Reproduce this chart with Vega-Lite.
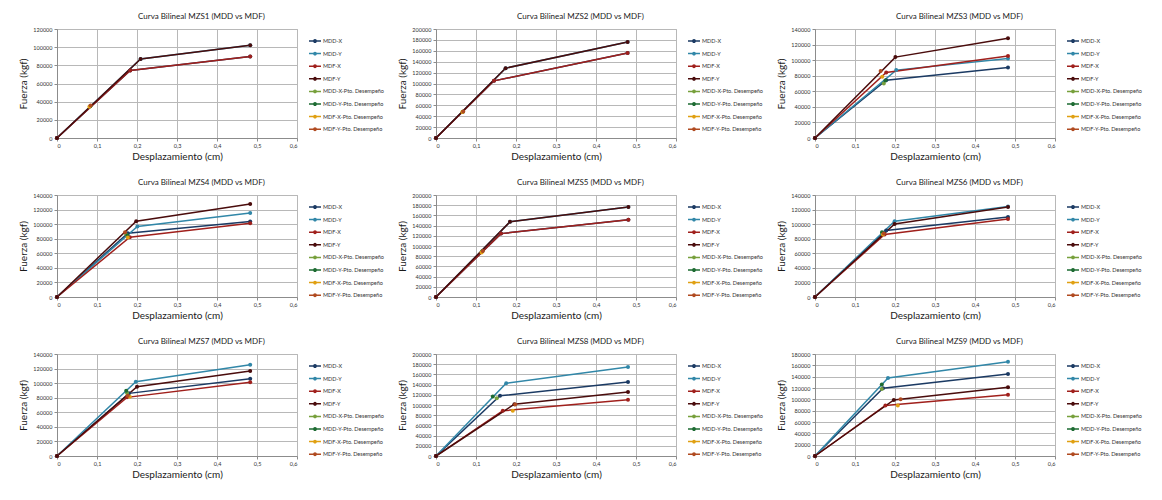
{
  "$schema": "https://vega.github.io/schema/vega-lite/v6.json",
  "background": "#ffffff",
  "padding": {"left": 18, "top": 12, "right": 0, "bottom": 0},
  "columns": 3,
  "spacing": {"row": 16, "column": 12},
  "resolve": {
    "scale": {"x": "independent", "y": "independent", "color": "independent"},
    "axis": {"x": "independent", "y": "independent"},
    "legend": {"color": "independent"}
  },
  "data": {
    "values": [
      {"p":1,"s":"MDD-X","x":0,"y":0},{"p":1,"s":"MDD-X","x":0.183,"y":74300},{"p":1,"s":"MDD-X","x":0.483,"y":89600},
      {"p":1,"s":"MDD-Y","x":0,"y":0},{"p":1,"s":"MDD-Y","x":0.209,"y":87100},{"p":1,"s":"MDD-Y","x":0.483,"y":102100},
      {"p":1,"s":"MDF-X","x":0,"y":0},{"p":1,"s":"MDF-X","x":0.183,"y":74300},{"p":1,"s":"MDF-X","x":0.483,"y":89600},
      {"p":1,"s":"MDF-Y","x":0,"y":0},{"p":1,"s":"MDF-Y","x":0.209,"y":87100},{"p":1,"s":"MDF-Y","x":0.483,"y":102100},
      {"p":1,"s":"MDD-X-Pto. Desempeño","x":0.083,"y":35000},
      {"p":1,"s":"MDD-Y-Pto. Desempeño","x":0.083,"y":35000},
      {"p":1,"s":"MDF-X-Pto. Desempeño","x":0.081,"y":34500},
      {"p":1,"s":"MDF-Y-Pto. Desempeño","x":0.084,"y":35800},

      {"p":2,"s":"MDD-X","x":0,"y":0},{"p":2,"s":"MDD-X","x":0.145,"y":104900},{"p":2,"s":"MDD-X","x":0.479,"y":155800},
      {"p":2,"s":"MDD-Y","x":0,"y":0},{"p":2,"s":"MDD-Y","x":0.174,"y":128200},{"p":2,"s":"MDD-Y","x":0.479,"y":176100},
      {"p":2,"s":"MDF-X","x":0,"y":0},{"p":2,"s":"MDF-X","x":0.145,"y":104900},{"p":2,"s":"MDF-X","x":0.479,"y":155800},
      {"p":2,"s":"MDF-Y","x":0,"y":0},{"p":2,"s":"MDF-Y","x":0.174,"y":128200},{"p":2,"s":"MDF-Y","x":0.479,"y":176100},
      {"p":2,"s":"MDD-X-Pto. Desempeño","x":0.067,"y":48000},
      {"p":2,"s":"MDD-Y-Pto. Desempeño","x":0.067,"y":48000},
      {"p":2,"s":"MDF-X-Pto. Desempeño","x":0.066,"y":47500},
      {"p":2,"s":"MDF-Y-Pto. Desempeño","x":0.068,"y":48500},

      {"p":3,"s":"MDD-X","x":0,"y":0},{"p":3,"s":"MDD-X","x":0.178,"y":74300},{"p":3,"s":"MDD-X","x":0.4825,"y":90600},
      {"p":3,"s":"MDD-Y","x":0,"y":0},{"p":3,"s":"MDD-Y","x":0.203,"y":87200},{"p":3,"s":"MDD-Y","x":0.4825,"y":102200},
      {"p":3,"s":"MDF-X","x":0,"y":0},{"p":3,"s":"MDF-X","x":0.178,"y":84200},{"p":3,"s":"MDF-X","x":0.4825,"y":105200},
      {"p":3,"s":"MDF-Y","x":0,"y":0},{"p":3,"s":"MDF-Y","x":0.201,"y":103900},{"p":3,"s":"MDF-Y","x":0.4825,"y":128000},
      {"p":3,"s":"MDD-X-Pto. Desempeño","x":0.172,"y":70000},
      {"p":3,"s":"MDD-Y-Pto. Desempeño","x":0.176,"y":73900},
      {"p":3,"s":"MDF-X-Pto. Desempeño","x":0.168,"y":78600},
      {"p":3,"s":"MDF-Y-Pto. Desempeño","x":0.164,"y":85900},

      {"p":4,"s":"MDD-X","x":0,"y":0},{"p":4,"s":"MDD-X","x":0.177,"y":87500},{"p":4,"s":"MDD-X","x":0.483,"y":103600},
      {"p":4,"s":"MDD-Y","x":0,"y":0},{"p":4,"s":"MDD-Y","x":0.201,"y":96700},{"p":4,"s":"MDD-Y","x":0.483,"y":115200},
      {"p":4,"s":"MDF-X","x":0,"y":0},{"p":4,"s":"MDF-X","x":0.182,"y":82000},{"p":4,"s":"MDF-X","x":0.483,"y":101300},
      {"p":4,"s":"MDF-Y","x":0,"y":0},{"p":4,"s":"MDF-Y","x":0.198,"y":104100},{"p":4,"s":"MDF-Y","x":0.483,"y":127600},
      {"p":4,"s":"MDD-X-Pto. Desempeño","x":0.173,"y":85700},
      {"p":4,"s":"MDD-Y-Pto. Desempeño","x":0.176,"y":84800},
      {"p":4,"s":"MDF-X-Pto. Desempeño","x":0.177,"y":81500},
      {"p":4,"s":"MDF-Y-Pto. Desempeño","x":0.170,"y":88900},

      {"p":5,"s":"MDD-X","x":0,"y":0},{"p":5,"s":"MDD-X","x":0.1625,"y":124300},{"p":5,"s":"MDD-X","x":0.481,"y":151300},
      {"p":5,"s":"MDD-Y","x":0,"y":0},{"p":5,"s":"MDD-Y","x":0.185,"y":147400},{"p":5,"s":"MDD-Y","x":0.481,"y":176300},
      {"p":5,"s":"MDF-X","x":0,"y":0},{"p":5,"s":"MDF-X","x":0.1625,"y":124300},{"p":5,"s":"MDF-X","x":0.481,"y":151300},
      {"p":5,"s":"MDF-Y","x":0,"y":0},{"p":5,"s":"MDF-Y","x":0.185,"y":147400},{"p":5,"s":"MDF-Y","x":0.481,"y":176300},
      {"p":5,"s":"MDD-X-Pto. Desempeño","x":0.115,"y":89000},
      {"p":5,"s":"MDD-Y-Pto. Desempeño","x":0.116,"y":89500},
      {"p":5,"s":"MDF-X-Pto. Desempeño","x":0.114,"y":87500},
      {"p":5,"s":"MDF-Y-Pto. Desempeño","x":0.117,"y":90100},

      {"p":6,"s":"MDD-X","x":0,"y":0},{"p":6,"s":"MDD-X","x":0.178,"y":91200},{"p":6,"s":"MDD-X","x":0.4825,"y":109900},
      {"p":6,"s":"MDD-Y","x":0,"y":0},{"p":6,"s":"MDD-Y","x":0.199,"y":104000},{"p":6,"s":"MDD-Y","x":0.4825,"y":124300},
      {"p":6,"s":"MDF-X","x":0,"y":0},{"p":6,"s":"MDF-X","x":0.174,"y":85700},{"p":6,"s":"MDF-X","x":0.4825,"y":107200},
      {"p":6,"s":"MDF-Y","x":0,"y":0},{"p":6,"s":"MDF-Y","x":0.199,"y":100300},{"p":6,"s":"MDF-Y","x":0.4825,"y":123600},
      {"p":6,"s":"MDD-X-Pto. Desempeño","x":0.168,"y":88000},
      {"p":6,"s":"MDD-Y-Pto. Desempeño","x":0.1675,"y":88900},
      {"p":6,"s":"MDF-X-Pto. Desempeño","x":0.170,"y":85700},
      {"p":6,"s":"MDF-Y-Pto. Desempeño","x":0.172,"y":87100},

      {"p":7,"s":"MDD-X","x":0,"y":0},{"p":7,"s":"MDD-X","x":0.180,"y":86000},{"p":7,"s":"MDD-X","x":0.483,"y":106100},
      {"p":7,"s":"MDD-Y","x":0,"y":0},{"p":7,"s":"MDD-Y","x":0.197,"y":102000},{"p":7,"s":"MDD-Y","x":0.483,"y":125300},
      {"p":7,"s":"MDF-X","x":0,"y":0},{"p":7,"s":"MDF-X","x":0.175,"y":80500},{"p":7,"s":"MDF-X","x":0.483,"y":101100},
      {"p":7,"s":"MDF-Y","x":0,"y":0},{"p":7,"s":"MDF-Y","x":0.200,"y":95200},{"p":7,"s":"MDF-Y","x":0.483,"y":116700},
      {"p":7,"s":"MDD-X-Pto. Desempeño","x":0.175,"y":86500},
      {"p":7,"s":"MDD-Y-Pto. Desempeño","x":0.173,"y":89700},
      {"p":7,"s":"MDF-X-Pto. Desempeño","x":0.182,"y":81400},
      {"p":7,"s":"MDF-Y-Pto. Desempeño","x":0.177,"y":82800},

      {"p":8,"s":"MDD-X","x":0,"y":0},{"p":8,"s":"MDD-X","x":0.160,"y":118000},{"p":8,"s":"MDD-X","x":0.48,"y":145300},
      {"p":8,"s":"MDD-Y","x":0,"y":0},{"p":8,"s":"MDD-Y","x":0.1755,"y":142600},{"p":8,"s":"MDD-Y","x":0.48,"y":174600},
      {"p":8,"s":"MDF-X","x":0,"y":0},{"p":8,"s":"MDF-X","x":0.167,"y":88700},{"p":8,"s":"MDF-X","x":0.48,"y":110100},
      {"p":8,"s":"MDF-Y","x":0,"y":0},{"p":8,"s":"MDF-Y","x":0.196,"y":101600},{"p":8,"s":"MDF-Y","x":0.48,"y":125700},
      {"p":8,"s":"MDD-X-Pto. Desempeño","x":0.152,"y":113300},
      {"p":8,"s":"MDD-Y-Pto. Desempeño","x":0.142,"y":116600},
      {"p":8,"s":"MDF-X-Pto. Desempeño","x":0.192,"y":88700},
      {"p":8,"s":"MDF-Y-Pto. Desempeño","x":0.198,"y":101000},

      {"p":9,"s":"MDD-X","x":0,"y":0},{"p":9,"s":"MDD-X","x":0.170,"y":119500},{"p":9,"s":"MDD-X","x":0.4825,"y":144800},
      {"p":9,"s":"MDD-Y","x":0,"y":0},{"p":9,"s":"MDD-Y","x":0.1825,"y":137700},{"p":9,"s":"MDD-Y","x":0.4825,"y":166500},
      {"p":9,"s":"MDF-X","x":0,"y":0},{"p":9,"s":"MDF-X","x":0.176,"y":89200},{"p":9,"s":"MDF-X","x":0.4825,"y":108000},
      {"p":9,"s":"MDF-Y","x":0,"y":0},{"p":9,"s":"MDF-Y","x":0.197,"y":99000},{"p":9,"s":"MDF-Y","x":0.4825,"y":121300},
      {"p":9,"s":"MDD-X-Pto. Desempeño","x":0.167,"y":118400},
      {"p":9,"s":"MDD-Y-Pto. Desempeño","x":0.167,"y":126100},
      {"p":9,"s":"MDF-X-Pto. Desempeño","x":0.207,"y":89200},
      {"p":9,"s":"MDF-Y-Pto. Desempeño","x":0.214,"y":100200}
    ]
  },
  "concat": [
    {
      "title": "Curva Bilineal MZS1 (MDD vs MDF)", "width": 240, "height": 109,
      "transform": [{"filter": "datum.p == 1"}],
      "mark": {"type": "line", "strokeWidth": 1.5, "point": {"filled": true, "size": 16}},
      "encoding": {
        "x": {"field": "x", "type": "quantitative", "title": "Desplazamiento (cm)", "scale": {"domain": [0, 0.6]},
              "axis": {"values": [0, 0.1, 0.2, 0.3, 0.4, 0.5, 0.6], "labelExpr": "datum.value == 0 ? '0' : replace(format(datum.value, '.1f'), '.', ',')"}},
        "y": {"field": "y", "type": "quantitative", "title": "Fuerza (kgf)", "scale": {"domain": [0, 120000]},
              "axis": {"values": [0, 20000, 40000, 60000, 80000, 100000, 120000], "format": "d"}},
        "color": {"field": "s", "type": "nominal", "title": null,
                  "scale": {"domain": ["MDD-X", "MDD-Y", "MDF-X", "MDF-Y", "MDD-X-Pto. Desempeño", "MDD-Y-Pto. Desempeño", "MDF-X-Pto. Desempeño", "MDF-Y-Pto. Desempeño"],
                            "range": ["#1b3a63", "#3187a8", "#a0201c", "#4a0c0c", "#77a03c", "#1d6b32", "#e0a012", "#b04a20"]}}
      }
    },
    {
      "title": "Curva Bilineal MZS2 (MDD vs MDF)", "width": 240, "height": 109,
      "transform": [{"filter": "datum.p == 2"}],
      "mark": {"type": "line", "strokeWidth": 1.5, "point": {"filled": true, "size": 16}},
      "encoding": {
        "x": {"field": "x", "type": "quantitative", "title": "Desplazamiento (cm)", "scale": {"domain": [0, 0.6]},
              "axis": {"values": [0, 0.1, 0.2, 0.3, 0.4, 0.5, 0.6], "labelExpr": "datum.value == 0 ? '0' : replace(format(datum.value, '.1f'), '.', ',')"}},
        "y": {"field": "y", "type": "quantitative", "title": "Fuerza (kgf)", "scale": {"domain": [0, 200000]},
              "axis": {"values": [0, 20000, 40000, 60000, 80000, 100000, 120000, 140000, 160000, 180000, 200000], "format": "d"}},
        "color": {"field": "s", "type": "nominal", "title": null,
                  "scale": {"domain": ["MDD-X", "MDD-Y", "MDF-X", "MDF-Y", "MDD-X-Pto. Desempeño", "MDD-Y-Pto. Desempeño", "MDF-X-Pto. Desempeño", "MDF-Y-Pto. Desempeño"],
                            "range": ["#1b3a63", "#3187a8", "#a0201c", "#4a0c0c", "#77a03c", "#1d6b32", "#e0a012", "#b04a20"]}}
      }
    },
    {
      "title": "Curva Bilineal MZS3 (MDD vs MDF)", "width": 240, "height": 109,
      "transform": [{"filter": "datum.p == 3"}],
      "mark": {"type": "line", "strokeWidth": 1.5, "point": {"filled": true, "size": 16}},
      "encoding": {
        "x": {"field": "x", "type": "quantitative", "title": "Desplazamiento (cm)", "scale": {"domain": [0, 0.6]},
              "axis": {"values": [0, 0.1, 0.2, 0.3, 0.4, 0.5, 0.6], "labelExpr": "datum.value == 0 ? '0' : replace(format(datum.value, '.1f'), '.', ',')"}},
        "y": {"field": "y", "type": "quantitative", "title": "Fuerza (kgf)", "scale": {"domain": [0, 140000]},
              "axis": {"values": [0, 20000, 40000, 60000, 80000, 100000, 120000, 140000], "format": "d"}},
        "color": {"field": "s", "type": "nominal", "title": null,
                  "scale": {"domain": ["MDD-X", "MDD-Y", "MDF-X", "MDF-Y", "MDD-X-Pto. Desempeño", "MDD-Y-Pto. Desempeño", "MDF-X-Pto. Desempeño", "MDF-Y-Pto. Desempeño"],
                            "range": ["#1b3a63", "#3187a8", "#a0201c", "#4a0c0c", "#77a03c", "#1d6b32", "#e0a012", "#b04a20"]}}
      }
    },
    {
      "title": "Curva Bilineal MZS4 (MDD vs MDF)", "width": 240, "height": 102,
      "transform": [{"filter": "datum.p == 4"}],
      "mark": {"type": "line", "strokeWidth": 1.5, "point": {"filled": true, "size": 16}},
      "encoding": {
        "x": {"field": "x", "type": "quantitative", "title": "Desplazamiento (cm)", "scale": {"domain": [0, 0.6]},
              "axis": {"values": [0, 0.1, 0.2, 0.3, 0.4, 0.5, 0.6], "labelExpr": "datum.value == 0 ? '0' : replace(format(datum.value, '.1f'), '.', ',')"}},
        "y": {"field": "y", "type": "quantitative", "title": "Fuerza (kgf)", "scale": {"domain": [0, 140000]},
              "axis": {"values": [0, 20000, 40000, 60000, 80000, 100000, 120000, 140000], "format": "d"}},
        "color": {"field": "s", "type": "nominal", "title": null,
                  "scale": {"domain": ["MDD-X", "MDD-Y", "MDF-X", "MDF-Y", "MDD-X-Pto. Desempeño", "MDD-Y-Pto. Desempeño", "MDF-X-Pto. Desempeño", "MDF-Y-Pto. Desempeño"],
                            "range": ["#1b3a63", "#3187a8", "#a0201c", "#4a0c0c", "#77a03c", "#1d6b32", "#e0a012", "#b04a20"]}}
      }
    },
    {
      "title": "Curva Bilineal MZS5 (MDD vs MDF)", "width": 240, "height": 102,
      "transform": [{"filter": "datum.p == 5"}],
      "mark": {"type": "line", "strokeWidth": 1.5, "point": {"filled": true, "size": 16}},
      "encoding": {
        "x": {"field": "x", "type": "quantitative", "title": "Desplazamiento (cm)", "scale": {"domain": [0, 0.6]},
              "axis": {"values": [0, 0.1, 0.2, 0.3, 0.4, 0.5, 0.6], "labelExpr": "datum.value == 0 ? '0' : replace(format(datum.value, '.1f'), '.', ',')"}},
        "y": {"field": "y", "type": "quantitative", "title": "Fuerza (kgf)", "scale": {"domain": [0, 200000]},
              "axis": {"values": [0, 20000, 40000, 60000, 80000, 100000, 120000, 140000, 160000, 180000, 200000], "format": "d"}},
        "color": {"field": "s", "type": "nominal", "title": null,
                  "scale": {"domain": ["MDD-X", "MDD-Y", "MDF-X", "MDF-Y", "MDD-X-Pto. Desempeño", "MDD-Y-Pto. Desempeño", "MDF-X-Pto. Desempeño", "MDF-Y-Pto. Desempeño"],
                            "range": ["#1b3a63", "#3187a8", "#a0201c", "#4a0c0c", "#77a03c", "#1d6b32", "#e0a012", "#b04a20"]}}
      }
    },
    {
      "title": "Curva Bilineal MZS6 (MDD vs MDF)", "width": 240, "height": 102,
      "transform": [{"filter": "datum.p == 6"}],
      "mark": {"type": "line", "strokeWidth": 1.5, "point": {"filled": true, "size": 16}},
      "encoding": {
        "x": {"field": "x", "type": "quantitative", "title": "Desplazamiento (cm)", "scale": {"domain": [0, 0.6]},
              "axis": {"values": [0, 0.1, 0.2, 0.3, 0.4, 0.5, 0.6], "labelExpr": "datum.value == 0 ? '0' : replace(format(datum.value, '.1f'), '.', ',')"}},
        "y": {"field": "y", "type": "quantitative", "title": "Fuerza (kgf)", "scale": {"domain": [0, 140000]},
              "axis": {"values": [0, 20000, 40000, 60000, 80000, 100000, 120000, 140000], "format": "d"}},
        "color": {"field": "s", "type": "nominal", "title": null,
                  "scale": {"domain": ["MDD-X", "MDD-Y", "MDF-X", "MDF-Y", "MDD-X-Pto. Desempeño", "MDD-Y-Pto. Desempeño", "MDF-X-Pto. Desempeño", "MDF-Y-Pto. Desempeño"],
                            "range": ["#1b3a63", "#3187a8", "#a0201c", "#4a0c0c", "#77a03c", "#1d6b32", "#e0a012", "#b04a20"]}}
      }
    },
    {
      "title": "Curva Bilineal MZS7 (MDD vs MDF)", "width": 240, "height": 102,
      "transform": [{"filter": "datum.p == 7"}],
      "mark": {"type": "line", "strokeWidth": 1.5, "point": {"filled": true, "size": 16}},
      "encoding": {
        "x": {"field": "x", "type": "quantitative", "title": "Desplazamiento (cm)", "scale": {"domain": [0, 0.6]},
              "axis": {"values": [0, 0.1, 0.2, 0.3, 0.4, 0.5, 0.6], "labelExpr": "datum.value == 0 ? '0' : replace(format(datum.value, '.1f'), '.', ',')"}},
        "y": {"field": "y", "type": "quantitative", "title": "Fuerza (kgf)", "scale": {"domain": [0, 140000]},
              "axis": {"values": [0, 20000, 40000, 60000, 80000, 100000, 120000, 140000], "format": "d"}},
        "color": {"field": "s", "type": "nominal", "title": null,
                  "scale": {"domain": ["MDD-X", "MDD-Y", "MDF-X", "MDF-Y", "MDD-X-Pto. Desempeño", "MDD-Y-Pto. Desempeño", "MDF-X-Pto. Desempeño", "MDF-Y-Pto. Desempeño"],
                            "range": ["#1b3a63", "#3187a8", "#a0201c", "#4a0c0c", "#77a03c", "#1d6b32", "#e0a012", "#b04a20"]}}
      }
    },
    {
      "title": "Curva Bilineal MZS8 (MDD vs MDF)", "width": 240, "height": 102,
      "transform": [{"filter": "datum.p == 8"}],
      "mark": {"type": "line", "strokeWidth": 1.5, "point": {"filled": true, "size": 16}},
      "encoding": {
        "x": {"field": "x", "type": "quantitative", "title": "Desplazamiento (cm)", "scale": {"domain": [0, 0.6]},
              "axis": {"values": [0, 0.1, 0.2, 0.3, 0.4, 0.5, 0.6], "labelExpr": "datum.value == 0 ? '0' : replace(format(datum.value, '.1f'), '.', ',')"}},
        "y": {"field": "y", "type": "quantitative", "title": "Fuerza (kgf)", "scale": {"domain": [0, 200000]},
              "axis": {"values": [0, 20000, 40000, 60000, 80000, 100000, 120000, 140000, 160000, 180000, 200000], "format": "d"}},
        "color": {"field": "s", "type": "nominal", "title": null,
                  "scale": {"domain": ["MDD-X", "MDD-Y", "MDF-X", "MDF-Y", "MDD-X-Pto. Desempeño", "MDD-Y-Pto. Desempeño", "MDF-X-Pto. Desempeño", "MDF-Y-Pto. Desempeño"],
                            "range": ["#1b3a63", "#3187a8", "#a0201c", "#4a0c0c", "#77a03c", "#1d6b32", "#e0a012", "#b04a20"]}}
      }
    },
    {
      "title": "Curva Bilineal MZS9 (MDD vs MDF)", "width": 240, "height": 102,
      "transform": [{"filter": "datum.p == 9"}],
      "mark": {"type": "line", "strokeWidth": 1.5, "point": {"filled": true, "size": 16}},
      "encoding": {
        "x": {"field": "x", "type": "quantitative", "title": "Desplazamiento (cm)", "scale": {"domain": [0, 0.6]},
              "axis": {"values": [0, 0.1, 0.2, 0.3, 0.4, 0.5, 0.6], "labelExpr": "datum.value == 0 ? '0' : replace(format(datum.value, '.1f'), '.', ',')"}},
        "y": {"field": "y", "type": "quantitative", "title": "Fuerza (kgf)", "scale": {"domain": [0, 180000]},
              "axis": {"values": [0, 20000, 40000, 60000, 80000, 100000, 120000, 140000, 160000, 180000], "format": "d"}},
        "color": {"field": "s", "type": "nominal", "title": null,
                  "scale": {"domain": ["MDD-X", "MDD-Y", "MDF-X", "MDF-Y", "MDD-X-Pto. Desempeño", "MDD-Y-Pto. Desempeño", "MDF-X-Pto. Desempeño", "MDF-Y-Pto. Desempeño"],
                            "range": ["#1b3a63", "#3187a8", "#a0201c", "#4a0c0c", "#77a03c", "#1d6b32", "#e0a012", "#b04a20"]}}
      }
    }
  ],
  "config": {
    "font": "Lato",
    "view": {"stroke": "#b3b3b3"},
    "title": {"fontSize": 8, "fontWeight": "normal", "color": "#1a1a1a", "frame": "bounds", "anchor": "middle", "offset": 6},
    "axis": {
      "grid": true, "gridColor": "#b8b8b8", "domainColor": "#8c8c8c", "tickColor": "#8c8c8c", "tickSize": 3,
      "labelFontSize": 5.5, "labelColor": "#333333", "labelPadding": 2,
      "titleFontSize": 10, "titleFontWeight": "normal", "titleColor": "#1a1a1a"
    },
    "axisX": {"titlePadding": 3},
    "axisY": {"titlePadding": 4},
    "legend": {
      "orient": "none", "legendX": 251, "legendY": 5,
      "labelFontSize": 5.5, "labelColor": "#333333", "labelOffset": 1,
      "symbolType": "M-1,0H1M-0.2,0A0.2,0.2,0,1,1,0.2,0A0.2,0.2,0,1,1,-0.2,0Z",
      "symbolSize": 144, "symbolStrokeWidth": 1.5, "rowPadding": 0.6
    }
  }
}
